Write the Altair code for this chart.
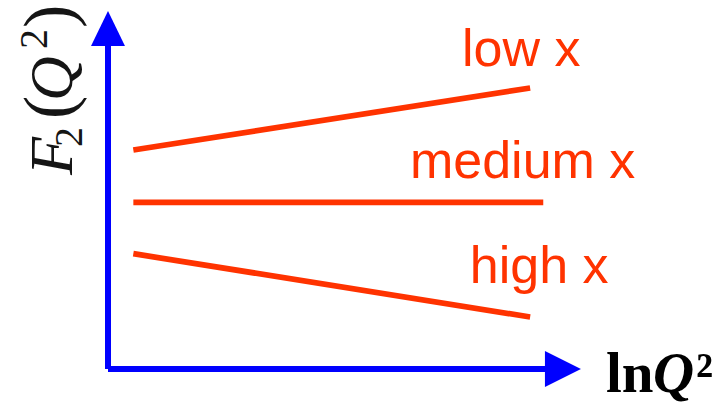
import altair as alt
import pandas as pd

# Schematic scaling behaviour of F2 with lnQ^2 at three x ranges
series = ["low x", "low x", "medium x", "medium x", "high x", "high x"]
ln_q2 = [0.58, 9.66, 0.58, 9.96, 0.58, 9.66]
f2 = [6.78, 8.70, 5.16, 5.16, 3.57, 1.61]

label_text = ["low x", "medium x", "high x"]
label_x = [8.10, 6.91, 8.28]
label_y = [9.38, 5.91, 2.66]

RED = "#ff3300"
BLUE = "#0000ff"

lines = pd.DataFrame({"series": series, "lnq2": ln_q2, "f2": f2})
labels = pd.DataFrame({"label": label_text, "lnq2": label_x, "f2": label_y})

xs = alt.Scale(domain=[0, 10], range=[108, 545], nice=False, zero=False)
ys = alt.Scale(domain=[0, 10], range=[369, 46], nice=False, zero=False)
X = lambda f: alt.X(f, type="quantitative", scale=xs, axis=None)
Y = lambda f: alt.Y(f, type="quantitative", scale=ys, axis=None)

# axis lines, drawn in data space
axes_df = pd.DataFrame({"x": [0, 0], "y": [0, 0], "x2": [10, 0], "y2": [0, 10]})
axis_lines = alt.Chart(axes_df).mark_rule(color=BLUE, strokeWidth=6, strokeCap="butt").encode(
    x=X("x"), y=Y("y"), x2="x2", y2="y2"
)

# arrowheads at the end of each axis
up_df = pd.DataFrame({"x": [0], "y": [10.54]})
right_df = pd.DataFrame({"x": [10.41], "y": [0]})
up_arrow = alt.Chart(up_df).mark_point(
    shape="M-0.97,1L0.97,1L0,-1Z", size=35 * 35, filled=True, color=BLUE, opacity=1, strokeWidth=0
).encode(x=X("x"), y=Y("y"))
right_arrow = alt.Chart(right_df).mark_point(
    shape="M-1,-1L1,0L-1,1Z", size=36 * 36, filled=True, color=BLUE, opacity=1, strokeWidth=0
).encode(x=X("x"), y=Y("y"))

curves = alt.Chart(lines).mark_line(color=RED, strokeWidth=5.7, strokeCap="butt").encode(
    x=X("lnq2"), y=Y("f2"), detail="series:N", order="lnq2:Q"
)

curve_labels = alt.Chart(labels).mark_text(
    font="Liberation Sans", fontSize=52, color=RED, align="left", baseline="alphabetic"
).encode(x=X("lnq2"), y=Y("f2"), text="label:N")


def piece(text, px, py, size, style="normal", weight="normal", angle=0, color="#000000"):
    kw = dict(font="Liberation Serif", fontSize=size, fontStyle=style, fontWeight=weight,
              align="left", baseline="alphabetic", color=color, text=text)
    if angle:
        kw["angle"] = angle
    return alt.Chart(pd.DataFrame({"t": [text]})).mark_text(**kw).encode(
        x=alt.value(px), y=alt.value(py)
    )


# x-axis title: lnQ²
x_title = [
    piece("ln", 606, 392, 57, weight="bold"),
    piece("Q", 653, 392, 57, style="italic", weight="bold"),
    piece("²", 696, 392, 57, weight="bold"),
]

# y-axis title: F₂(Q²), reading bottom to top
YC = "#151515"
y_title = [
    piece("F", 72, 175, 62, style="italic", angle=270, color=YC),
    piece("2", 82, 147, 40, angle=270, color=YC),
    piece("(", 72, 119, 70, angle=270, color=YC),
    piece("Q", 72, 101, 62, style="italic", angle=270, color=YC),
    piece("2", 47, 49, 40, angle=270, color=YC),
    piece(")", 72, 28, 70, angle=270, color=YC),
]

chart = alt.layer(
    axis_lines, up_arrow, right_arrow, curves, curve_labels, *x_title, *y_title
).properties(
    width=727, height=404, padding=0, autosize=alt.AutoSizeParams(type="none"), background="white"
).configure_view(stroke=None)

chart.save("out.html", embed_options={"renderer": "svg", "actions": False})
